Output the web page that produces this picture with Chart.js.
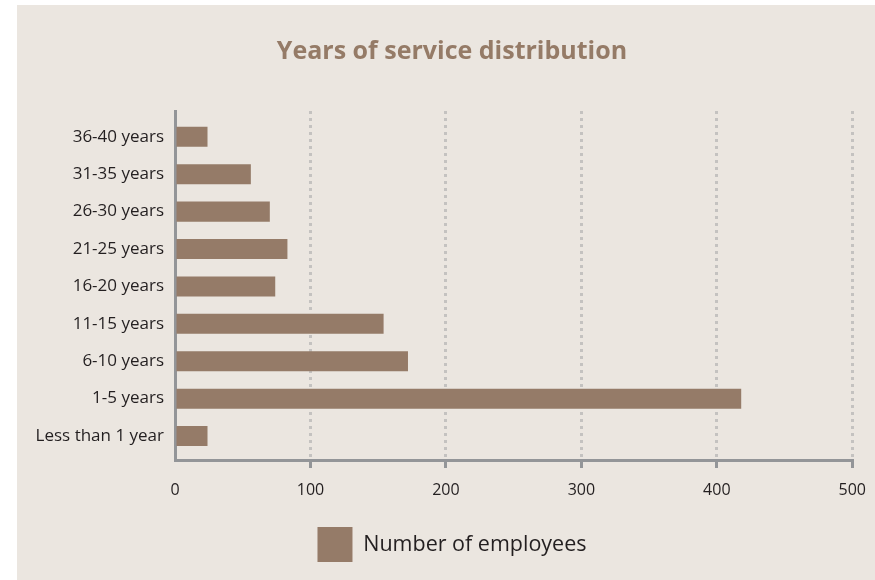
<!DOCTYPE html>
<html>
<head>
<meta charset="utf-8">
<script src="https://cdn.jsdelivr.net/npm/chart.js@4/dist/chart.umd.min.js"></script>
<style>
  html, body { margin: 0; padding: 0; background: #ffffff; }
  #wrap { position: absolute; left: 17px; top: 5px; width: 858px; height: 575px; background: #EBE6E0; }
  canvas { display: block; }
</style>
</head>
<body>
<div id="wrap"><canvas id="c" width="858" height="575"></canvas></div>
<script>
const categories = ["Less than 1 year", "1-5 years", "6-10 years", "11-15 years", "16-20 years", "21-25 years", "26-30 years", "31-35 years", "36-40 years"];
const employees = [24, 418, 172, 154, 74, 83, 70, 56, 24];
const xTicks = [0, 100, 200, 300, 400, 500];
const seriesName = "Number of employees";
const titleText = "Years of service distribution";

const BAR = "#957B68";
const AXIS = "#939598";
const GRID = "#C4C2C0";
const TEXT = "#231F20";
const FONT = "'Open Sans', 'Noto Sans', sans-serif";

const points = categories.map((c, i) => ({ x: employees[i], y: i }));

new Chart(document.getElementById("c"), {
  type: "bar",
  data: {
    datasets: [{
      label: seriesName,
      data: points,
      backgroundColor: BAR,
      borderWidth: 0,
      categoryPercentage: 1,
      barPercentage: 0.535
    }]
  },
  options: {
    indexAxis: "y",
    responsive: false,
    animation: false,
    layout: { padding: { left: 8, right: -4, top: 0, bottom: 8 } },
    plugins: {
      title: {
        display: true,
        text: titleText,
        color: "#957B67",
        font: { family: FONT, size: 25, weight: "bold" },
        padding: { top: 32, bottom: 44 }
      },
      legend: {
        display: true,
        position: "bottom",
        labels: {
          boxWidth: 35,
          boxHeight: 35,
          padding: 10,
          color: TEXT,
          font: { family: FONT, size: 21.5 }
        }
      },
      tooltip: { enabled: false }
    },
    scales: {
      x: {
        type: "linear",
        min: 0,
        max: 500,
        afterBuildTicks: (axis) => { axis.ticks = xTicks.map(v => ({ value: v })); },
        afterFit: (axis) => { axis.height = 57; },
        border: { display: true, color: AXIS, width: 3, dash: [3, 4] },
        grid: {
          display: true,
          drawOnChartArea: true,
          drawTicks: true,
          tickLength: 8,
          color: (ctx) => (ctx.tick && ctx.tick.value === 0) ? "rgba(0,0,0,0)" : GRID,
          lineWidth: 3,
          tickBorderDash: [],
          tickColor: (ctx) => (ctx.tick && ctx.tick.value === 0) ? "rgba(0,0,0,0)" : AXIS,
          tickWidth: 3
        },
        ticks: {
          color: TEXT,
          padding: 9,
          font: { family: FONT, size: 16, lineHeight: 1.7 }
        }
      },
      y: {
        type: "linear",
        min: -0.64,
        max: 8.69,
        offset: false,
        afterBuildTicks: (axis) => { axis.ticks = categories.map((c, i) => ({ value: i })); },
        afterFit: (axis) => { axis.width = 150; },
        border: { display: true, color: AXIS, width: 3 },
        grid: { display: false, drawTicks: false, offset: false },
        ticks: {
          color: TEXT,
          padding: 11,
          font: { family: FONT, size: 17 },
          callback: (v) => categories[v]
        }
      }
    }
  }
});
</script>
</body>
</html>
